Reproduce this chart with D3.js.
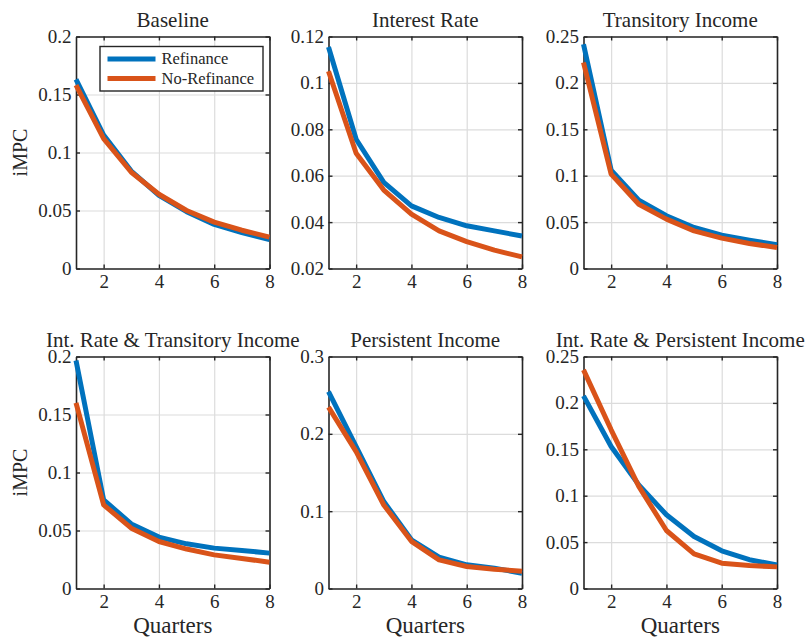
<!DOCTYPE html>
<html>
<head>
<meta charset="utf-8">
<script src="https://cdn.jsdelivr.net/npm/d3@7"></script>
<style>
  body { margin: 0; background: #fff; }
  svg { display: block; }
  text { font-family: "Liberation Serif", "Times New Roman", serif; fill: #262626; }
</style>
</head>
<body>
<svg id="chart" width="809" height="639"></svg>
<script>
// ---------------- data ----------------
const quarters = [1, 2, 3, 4, 5, 6, 7, 8];
const seriesNames = ["Refinance", "No-Refinance"];
const panelTitles = ["Baseline", "Interest Rate", "Transitory Income",
                     "Int. Rate & Transitory Income", "Persistent Income", "Int. Rate & Persistent Income"];

const refBaseline   = [0.163, 0.115, 0.084, 0.063, 0.049, 0.038, 0.031, 0.025];
const noRefBaseline = [0.158, 0.112, 0.083, 0.064, 0.050, 0.040, 0.033, 0.027];
const refRate       = [0.1155, 0.0757, 0.0571, 0.0470, 0.0420, 0.0384, 0.0362, 0.0340];
const noRefRate     = [0.1050, 0.0697, 0.0538, 0.0434, 0.0362, 0.0316, 0.0279, 0.0250];
const refTrans      = [0.2417, 0.1060, 0.0736, 0.0568, 0.0442, 0.0359, 0.0305, 0.0255];
const noRefTrans    = [0.2220, 0.1017, 0.0693, 0.0532, 0.0406, 0.0327, 0.0270, 0.0226];
const refRateTrans  = [0.1966, 0.0764, 0.0557, 0.0443, 0.0385, 0.0348, 0.0328, 0.0305];
const noRefRateTrans= [0.1600, 0.0721, 0.0520, 0.0405, 0.0340, 0.0290, 0.0259, 0.0227];
const refPers       = [0.2547, 0.1836, 0.1125, 0.0630, 0.0405, 0.0306, 0.0263, 0.0198];
const noRefPers     = [0.2345, 0.1770, 0.1080, 0.0610, 0.0370, 0.0284, 0.0250, 0.0224];
const refRatePers   = [0.2076, 0.1530, 0.1117, 0.0794, 0.0560, 0.0406, 0.0310, 0.0255];
const noRefRatePers = [0.2356, 0.1710, 0.1100, 0.0625, 0.0374, 0.0273, 0.0248, 0.0233];

const xTicks = [2, 4, 6, 8];
const yTicksA = [0, 0.05, 0.1, 0.15, 0.2];
const yTicksB = [0.02, 0.04, 0.06, 0.08, 0.1, 0.12];
const yTicksC = [0, 0.05, 0.1, 0.15, 0.2, 0.25];
const yTicksD = [0, 0.1, 0.2, 0.3];
const yDomains = [[0, 0.2], [0.02, 0.12], [0, 0.25], [0, 0.2], [0, 0.3], [0, 0.25]];

const panelSeries = [
  [refBaseline, noRefBaseline],
  [refRate, noRefRate],
  [refTrans, noRefTrans],
  [refRateTrans, noRefRateTrans],
  [refPers, noRefPers],
  [refRatePers, noRefRatePers]
];
const panelYTicks = [yTicksA, yTicksB, yTicksC, yTicksA, yTicksD, yTicksC];
const colors = ["#0072BD", "#D95319"];

// ---------------- layout ----------------
const colLeft = [76, 328.5, 583.5];
const rowTop = [36.5, 356.5];
const pw = 193.5, ph = 232;
const axisColor = "#262626";
const gridColor = "#dcdcdc";

const svg = d3.select("#chart");

panelTitles.forEach((title, i) => {
  const col = i % 3, row = Math.floor(i / 3);
  const g = svg.append("g").attr("transform", `translate(${colLeft[col]},${rowTop[row]})`);
  const x = d3.scaleLinear().domain([1, 8]).range([0, pw]);
  const y = d3.scaleLinear().domain(yDomains[i]).range([ph, 0]);
  const fmt = d => String(+d.toFixed(2));

  // grid
  g.append("g").call(d3.axisBottom(x).tickValues(xTicks).tickSize(-ph).tickFormat(""))
    .attr("transform", `translate(0,${ph})`)
    .call(s => { s.select(".domain").remove(); s.selectAll("line").attr("stroke", gridColor).attr("stroke-width", 1.2); });
  g.append("g").call(d3.axisLeft(y).tickValues(panelYTicks[i]).tickSize(-pw).tickFormat(""))
    .call(s => { s.select(".domain").remove(); s.selectAll("line").attr("stroke", gridColor).attr("stroke-width", 1.2); });

  // axes with labels (inward ticks)
  const ax = g.append("g").attr("transform", `translate(0,${ph})`)
    .call(d3.axisBottom(x).tickValues(xTicks).tickSizeInner(-4).tickSizeOuter(0).tickPadding(6.5).tickFormat(d3.format("d")));
  const ay = g.append("g")
    .call(d3.axisLeft(y).tickValues(panelYTicks[i]).tickSizeInner(-4).tickSizeOuter(0).tickPadding(4.5).tickFormat(fmt));
  const at = g.append("g")
    .call(d3.axisTop(x).tickValues(xTicks).tickSizeInner(-4).tickSizeOuter(0).tickFormat(""));
  const ar = g.append("g").attr("transform", `translate(${pw},0)`)
    .call(d3.axisRight(y).tickValues(panelYTicks[i]).tickSizeInner(-4).tickSizeOuter(0).tickFormat(""));
  [ax, ay, at, ar].forEach(a => {
    a.select(".domain").attr("stroke", axisColor).attr("stroke-width", 1.6);
    a.selectAll(".tick line").attr("stroke", axisColor).attr("stroke-width", 1.4);
    a.selectAll("text").attr("font-size", 19).attr("fill", axisColor);
  });

  // data lines
  const line = d3.line().x((d, k) => x(quarters[k])).y(d => y(d));
  panelSeries[i].forEach((vals, s) => {
    g.append("path").datum(vals)
      .attr("d", line)
      .attr("fill", "none")
      .attr("stroke", colors[s])
      .attr("stroke-width", 5)
      .attr("stroke-linejoin", "round");
  });

  // title
  g.append("text").attr("x", pw / 2).attr("y", -9.5)
    .attr("text-anchor", "middle").attr("font-size", 21).attr("fill", "#000")
    .text(title);

  // axis labels
  if (row === 1) {
    g.append("text").attr("x", pw / 2).attr("y", ph + 44.5)
      .attr("text-anchor", "middle").attr("font-size", 23).text("Quarters");
  }
  if (col === 0) {
    g.append("text").attr("transform", `translate(-49,${ph / 2}) rotate(-90)`)
      .attr("text-anchor", "middle").attr("font-size", 20).text("iMPC");
  }

  // legend
  if (i === 0) {
    const lg = g.append("g").attr("transform", "translate(24,10)");
    lg.append("rect").attr("x", 0).attr("y", 0).attr("width", 163).attr("height", 44.5)
      .attr("fill", "#fff").attr("stroke", axisColor).attr("stroke-width", 1.4);
    seriesNames.forEach((name, s) => {
      const yy = 12.5 + s * 19.5;
      lg.append("line").attr("x1", 7.5).attr("x2", 55.5).attr("y1", yy).attr("y2", yy)
        .attr("stroke", colors[s]).attr("stroke-width", 5);
      lg.append("text").attr("x", 61.5).attr("y", yy).attr("dy", "0.33em")
        .attr("font-size", 16.5).text(name);
    });
  }
});
</script>
</body>
</html>
